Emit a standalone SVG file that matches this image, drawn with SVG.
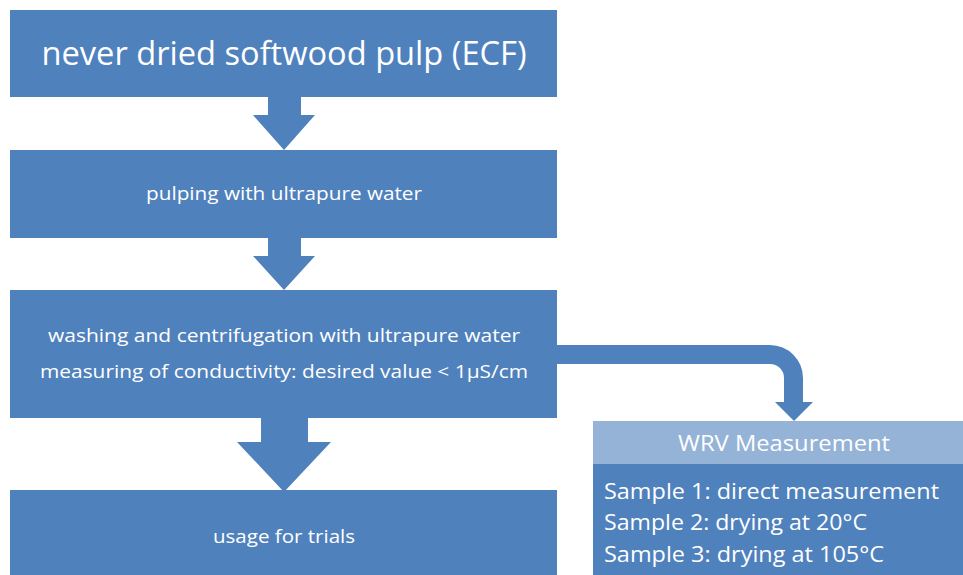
<svg xmlns="http://www.w3.org/2000/svg" width="963" height="575" viewBox="0 0 963 575">
<style>
.box{fill:#4F81BD}
.hdr{fill:#95B3D7}
.arr{fill:#4F81BD}
text{font-family:"Open Sans","Noto Sans","Liberation Sans",sans-serif;fill:#FFFFFF}
.c{text-anchor:middle}
</style>
<rect width="963" height="575" fill="#FFFFFF"/>
<g id="connectors">
<polygon class="arr" points="268,97 301,97 301,115 315,115 284,150 253,115 268,115"/>
<polygon class="arr" points="268,238 301,238 301,256 315,256 284,290 253,256 268,256"/>
<polygon class="arr" points="261,418 308,418 308,442 331,442 284,492 237,442 261,442"/>
<path class="arr" d="M557,345 H770 A33,33 0 0 1 803,378 V402 H813 L794,421 L775,402 H784 V378 A14,14 0 0 0 770,364 H557 Z"/>
</g>
<g id="node-pulp">
<rect class="box" x="10" y="10" width="547" height="87"/>
<text class="c" x="284" y="65" font-size="33" textLength="485" lengthAdjust="spacingAndGlyphs">never dried softwood pulp (ECF)</text>
</g>
<g id="node-pulping">
<rect class="box" x="10" y="150" width="547" height="88"/>
<text class="c" x="284" y="200" font-size="19" textLength="276" lengthAdjust="spacingAndGlyphs">pulping with ultrapure water</text>
</g>
<g id="node-washing">
<rect class="box" x="10" y="290" width="547" height="128"/>
<text class="c" x="284" y="342" font-size="19" textLength="472" lengthAdjust="spacingAndGlyphs">washing and centrifugation  with ultrapure water</text>
<text class="c" x="284" y="378" font-size="19" textLength="488" lengthAdjust="spacingAndGlyphs">measuring of conductivity: desired value &lt; 1µS/cm</text>
</g>
<g id="node-usage">
<rect class="box" x="10" y="490" width="547" height="85"/>
<text class="c" x="284" y="543" font-size="19" textLength="142" lengthAdjust="spacingAndGlyphs">usage for trials</text>
</g>
<g id="node-wrv">
<rect class="hdr" x="593" y="421" width="370" height="43"/>
<rect class="box" x="593" y="464" width="370" height="111"/>
<text class="c" x="784" y="451" font-size="22" textLength="212" lengthAdjust="spacingAndGlyphs">WRV Measurement</text>
<text x="604" y="499" font-size="22" textLength="335" lengthAdjust="spacingAndGlyphs">Sample 1: direct measurement</text>
<text x="604" y="530" font-size="22" textLength="263" lengthAdjust="spacingAndGlyphs">Sample 2: drying at 20°C</text>
<text x="604" y="562" font-size="22" textLength="280" lengthAdjust="spacingAndGlyphs">Sample 3: drying at 105°C</text>
</g>
</svg>
